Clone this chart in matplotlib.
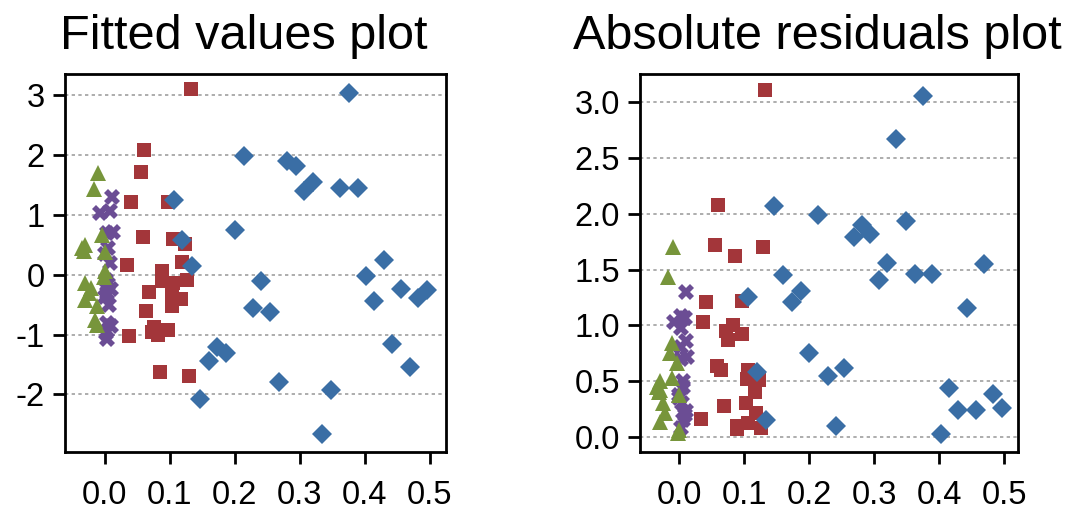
import numpy as np
import matplotlib
matplotlib.use('Agg')
import matplotlib.pyplot as plt

plt.rcParams['font.family'] = ['Liberation Sans', 'DejaVu Sans']

# leverage (x) and fitted-plot value (y) per group
blue_x = [0.375, 0.214, 0.281, 0.294, 0.307, 0.320, 0.362, 0.389, 0.106, 0.200,
          0.119, 0.134, 0.241, 0.228, 0.254, 0.402, 0.429, 0.415, 0.456, 0.482,
          0.496, 0.442, 0.469, 0.173, 0.187, 0.160, 0.146, 0.268, 0.348, 0.334]
blue_y = [3.05, 1.99, 1.90, 1.82, 1.41, 1.56, 1.46, 1.46, 1.25, 0.75,
          0.58, 0.155, -0.10, -0.55, -0.62, -0.025, 0.24, -0.44, -0.24, -0.39,
          -0.26, -1.16, -1.55, -1.21, -1.31, -1.45, -2.07, -1.79, -1.93, -2.67]

red_x = [0.132, 0.060, 0.055, 0.041, 0.097, 0.058, 0.105, 0.123, 0.118, 0.034,
         0.088, 0.088, 0.105, 0.126, 0.103, 0.117, 0.068, 0.104, 0.064, 0.075,
         0.072, 0.082, 0.097, 0.037, 0.085, 0.129]
red_y = [3.11, 2.08, 1.72, 1.21, 1.22, 0.64, 0.60, 0.51, 0.22, 0.16,
         0.07, -0.10, -0.13, -0.08, -0.31, -0.40, -0.28, -0.52, -0.60, -0.87,
         -0.95, -1.00, -0.92, -1.03, -1.62, -1.70]

green_x = [-0.010, -0.017, -0.012, -0.004, -0.030, -0.032, -0.030, -0.025,
           0.000, -0.022, -0.030, 0.000, -0.002, -0.015, -0.012, -0.035]
green_y = [1.70, 1.43, -0.84, 0.66, 0.50, 0.40, -0.42, -0.31,
           0.38, -0.22, -0.14, 0.06, -0.04, -0.75, -0.53, 0.45]

purple_x = [0.011, -0.008, 0.008, 0.012, 0.003, 0.005, 0.000, 0.008, 0.002,
            0.005, 0.010, 0.004, 0.006, 0.010, 0.003, 0.002, 0.003, 0.000]
purple_y = [1.30, 1.03, 1.07, 0.72, 0.70, 0.45, 0.35, 0.20, -0.08,
            -0.15, -0.23, -0.31, -0.50, -0.86, -0.81, -0.98, -1.08, -0.38]

x_ticks = [0.0, 0.1, 0.2, 0.3, 0.4, 0.5]

groups = [
    (purple_x, purple_y, 'X', '#6b4d94', 11),
    (green_x, green_y, '^', '#77953b', 11.5),
    (red_x, red_y, 's', '#a3363a', 10.5),
    (blue_x, blue_y, 'D', '#3a6ea5', 10.5),
]

fig = plt.figure(figsize=(10.92, 5.13), dpi=100)
ax1 = fig.add_axes([0.0591, 0.1195, 0.3493, 0.7363])
ax2 = fig.add_axes([0.5861, 0.1195, 0.3459, 0.7363])


def style(ax, title):
    for sp in ax.spines.values():
        sp.set_linewidth(2)
    ax.tick_params(direction='out', length=8.5, width=2)
    ax.tick_params(axis='x', pad=12)
    ax.tick_params(axis='y', pad=6)
    ax.yaxis.grid(True, color='#a0a0a0', linestyle=(0, (2, 2)), linewidth=1.2)
    ax.set_axisbelow(True)
    ax.set_title(title, fontsize=35, pad=18, x=0.47)


for gx, gy, m, c, ms in groups:
    ax1.plot(gx, gy, linestyle='none', marker=m, color=c, markersize=ms,
             markeredgewidth=0)
    ax2.plot(gx, np.abs(gy), linestyle='none', marker=m, color=c, markersize=ms,
             markeredgewidth=0)

ax1.set_xlim(-0.062, 0.525)
ax1.set_ylim(-2.96, 3.36)
ax1.set_xticks(x_ticks, [f'{t:.1f}' for t in x_ticks], fontsize=23.5)
ax1.set_yticks([-2, -1, 0, 1, 2, 3], ['-2', '-1', '0', '1', '2', '3'], fontsize=23.5)
style(ax1, 'Fitted values plot')

ax2.set_xlim(-0.0605, 0.5206)
ax2.set_ylim(-0.13, 3.25)
y2 = [0.0, 0.5, 1.0, 1.5, 2.0, 2.5, 3.0]
ax2.set_xticks(x_ticks, [f'{t:.1f}' for t in x_ticks], fontsize=23.5)
ax2.set_yticks(y2, [f'{t:.1f}' for t in y2], fontsize=23.5)
style(ax2, 'Absolute residuals plot')

fig.savefig('out.png', dpi=100)
